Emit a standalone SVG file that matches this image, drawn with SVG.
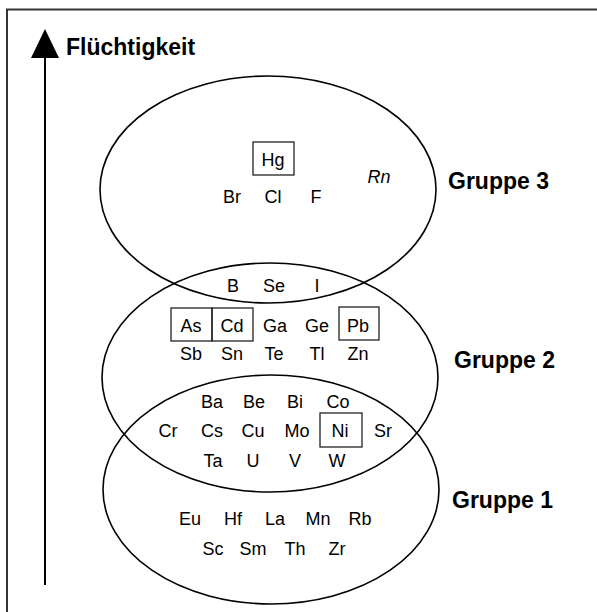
<svg xmlns="http://www.w3.org/2000/svg" width="597" height="612" viewBox="0 0 597 612">
  <style>
    .frame { fill: none; stroke: #333; stroke-width: 2; }
    .set { fill: none; stroke: #000; stroke-width: 1.6; }
    .box { fill: none; stroke: #222; stroke-width: 1.3; }
    .el { font-family: "Liberation Sans", Arial, sans-serif; font-size: 18px; fill: #000; text-anchor: middle; }
    .it { font-style: italic; }
    .lbl { font-family: "Liberation Sans", Arial, sans-serif; font-size: 23px; font-weight: bold; fill: #000; }
  </style>
  <rect width="597" height="612" fill="#fff"/>

  <!-- open frame: top and left edges only -->
  <path class="frame" d="M7 612 V9.5 H597"/>

  <!-- volatility axis -->
  <g id="axis">
    <line x1="45" y1="56" x2="45" y2="585" stroke="#000" stroke-width="2"/>
    <polygon points="45,29 59,58 31,58" fill="#000"/>
    <text class="lbl" x="66" y="55">Flüchtigkeit</text>
  </g>

  <!-- set outlines -->
  <g id="sets">
    <ellipse class="set" cx="268" cy="189.5" rx="168" ry="113.5"/>
    <ellipse class="set" cx="270" cy="377.5" rx="168" ry="114.5"/>
    <ellipse class="set" cx="271" cy="489.5" rx="168" ry="114.5"/>
  </g>

  <!-- group 3 -->
  <g id="gruppe3">
    <rect class="box" x="253" y="142" width="41" height="33"/>
    <text class="el" x="273" y="166">Hg</text>
    <text class="el it" x="379" y="183">Rn</text>
    <text class="el" x="232" y="203">Br</text>
    <text class="el" x="273" y="203">Cl</text>
    <text class="el" x="316" y="203">F</text>
    <text class="lbl" x="448" y="189">Gruppe 3</text>
  </g>

  <!-- overlap of groups 3 and 2 -->
  <g id="schnitt32">
    <text class="el" x="233" y="292">B</text>
    <text class="el" x="274" y="292">Se</text>
    <text class="el" x="317" y="292">I</text>
  </g>

  <!-- group 2 -->
  <g id="gruppe2">
    <rect class="box" x="171" y="308" width="41" height="33"/>
    <rect class="box" x="212" y="308" width="41" height="33"/>
    <rect class="box" x="339" y="307" width="40" height="33"/>
    <text class="el" x="191" y="332">As</text>
    <text class="el" x="232" y="332">Cd</text>
    <text class="el" x="275" y="332">Ga</text>
    <text class="el" x="317" y="332">Ge</text>
    <text class="el" x="358" y="332">Pb</text>
    <text class="el" x="191" y="360">Sb</text>
    <text class="el" x="232" y="360">Sn</text>
    <text class="el" x="274" y="360">Te</text>
    <text class="el" x="317" y="360">Tl</text>
    <text class="el" x="358" y="360">Zn</text>
    <text class="lbl" x="454" y="368">Gruppe 2</text>
  </g>

  <!-- overlap of groups 2 and 1 -->
  <g id="schnitt21">
    <rect class="box" x="320" y="413" width="42" height="34"/>
    <text class="el" x="212" y="408">Ba</text>
    <text class="el" x="254" y="408">Be</text>
    <text class="el" x="295" y="408">Bi</text>
    <text class="el" x="338" y="408">Co</text>
    <text class="el" x="168" y="437">Cr</text>
    <text class="el" x="212" y="437">Cs</text>
    <text class="el" x="253" y="437">Cu</text>
    <text class="el" x="297" y="437">Mo</text>
    <text class="el" x="340" y="437">Ni</text>
    <text class="el" x="383" y="437">Sr</text>
    <text class="el" x="213" y="467">Ta</text>
    <text class="el" x="253" y="467">U</text>
    <text class="el" x="295" y="467">V</text>
    <text class="el" x="337" y="467">W</text>
  </g>

  <!-- group 1 -->
  <g id="gruppe1">
    <text class="el" x="190" y="525">Eu</text>
    <text class="el" x="233" y="525">Hf</text>
    <text class="el" x="275" y="525">La</text>
    <text class="el" x="318" y="525">Mn</text>
    <text class="el" x="360" y="525">Rb</text>
    <text class="el" x="213" y="555">Sc</text>
    <text class="el" x="253" y="555">Sm</text>
    <text class="el" x="295" y="555">Th</text>
    <text class="el" x="337" y="555">Zr</text>
    <text class="lbl" x="452" y="508">Gruppe 1</text>
  </g>
</svg>
